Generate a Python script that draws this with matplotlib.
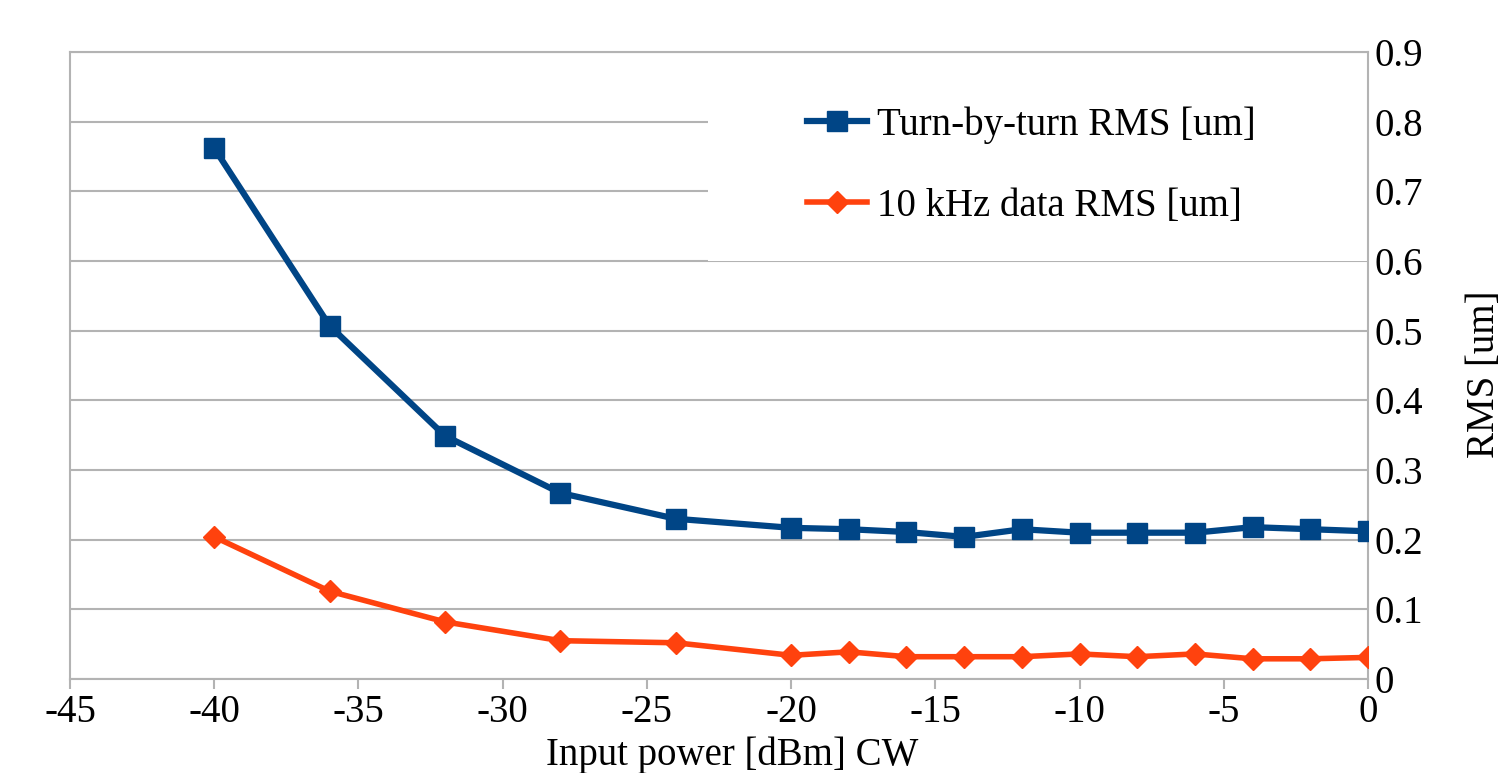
import matplotlib
matplotlib.use("Agg")
import matplotlib.pyplot as plt
from matplotlib.patches import Rectangle

x_power = [-40, -36, -32, -28, -24, -20, -18, -16, -14, -12, -10, -8, -6, -4, -2, 0]
tbt_rms = [0.762, 0.507, 0.349, 0.267, 0.230, 0.217, 0.215, 0.211, 0.204, 0.215,
           0.210, 0.210, 0.210, 0.218, 0.215, 0.212]
khz_rms = [0.204, 0.126, 0.082, 0.055, 0.052, 0.034, 0.039, 0.032, 0.032, 0.032,
           0.036, 0.032, 0.036, 0.029, 0.029, 0.031]
x_ticks = [-45, -40, -35, -30, -25, -20, -15, -10, -5, 0]
y_ticks = [0, 0.1, 0.2, 0.3, 0.4, 0.5, 0.6, 0.7, 0.8, 0.9]
labels = ["Turn-by-turn RMS [um]", "10 kHz data RMS [um]"]

plt.rcParams['font.family'] = ['Liberation Serif', 'DejaVu Serif']
FS = 28

W, H = 1502, 773
fig = plt.figure(figsize=(W/100, H/100), dpi=100)
x0, x1, y0, y1 = 70, 1368, 52, 679
ax = fig.add_axes([x0/W, 1-y1/H, (x1-x0)/W, (y1-y0)/H])

blue = '#004586'
orange = '#ff420e'
ax.plot(x_power, tbt_rms, color=blue, lw=4.5, marker='s', ms=14, label=labels[0], zorder=3)
ax.plot(x_power, khz_rms, color=orange, lw=4, marker='D', ms=11, label=labels[1], zorder=3)

ax.set_xlim(-45, 0)
ax.set_ylim(0, 0.9)
ax.set_xticks(x_ticks)
ax.set_xticklabels([str(t) for t in x_ticks])
ax.set_yticks(y_ticks)
ax.set_yticklabels([("0" if t == 0 else f"{t:.1f}") for t in y_ticks])
ax.yaxis.tick_right()
ax.yaxis.set_label_position('right')
ax.grid(axis='y', color='#b3b3b3', lw=1.5)
ax.set_axisbelow(True)
for s in ax.spines.values():
    s.set_color('#b3b3b3')
    s.set_linewidth(1.5)
ax.tick_params(axis='x', direction='out', length=7.5, width=1.5, color='#b3b3b3',
               labelsize=FS, pad=3)
ax.tick_params(axis='y', length=0, labelsize=FS, pad=5)
ax.set_xlabel("Input power [dBm] CW", fontsize=FS)
ax.xaxis.set_label_coords((732-x0)/(x1-x0), (y1-736)/(y1-y0))
ax.set_ylabel("RMS [um]", fontsize=FS)
ax.yaxis.set_label_coords((1466-x0)/(x1-x0), (y1-374)/(y1-y0))

# white legend background that hides gridlines
ax.add_patch(Rectangle(((708-x0)/(x1-x0), (y1-261)/(y1-y0)),
                       (x1-708)/(x1-x0), (261-70)/(y1-y0),
                       transform=ax.transAxes, facecolor='white', edgecolor='none',
                       zorder=1.5))

leg = ax.legend(loc='center left', bbox_to_anchor=(807/W, 1-165.5/H),
                bbox_transform=fig.transFigure, frameon=False,
                fontsize=FS, handlelength=1.55, labelspacing=1.13, borderpad=0,
                handletextpad=0.26, borderaxespad=0)

fig.savefig("out.png", dpi=100)
